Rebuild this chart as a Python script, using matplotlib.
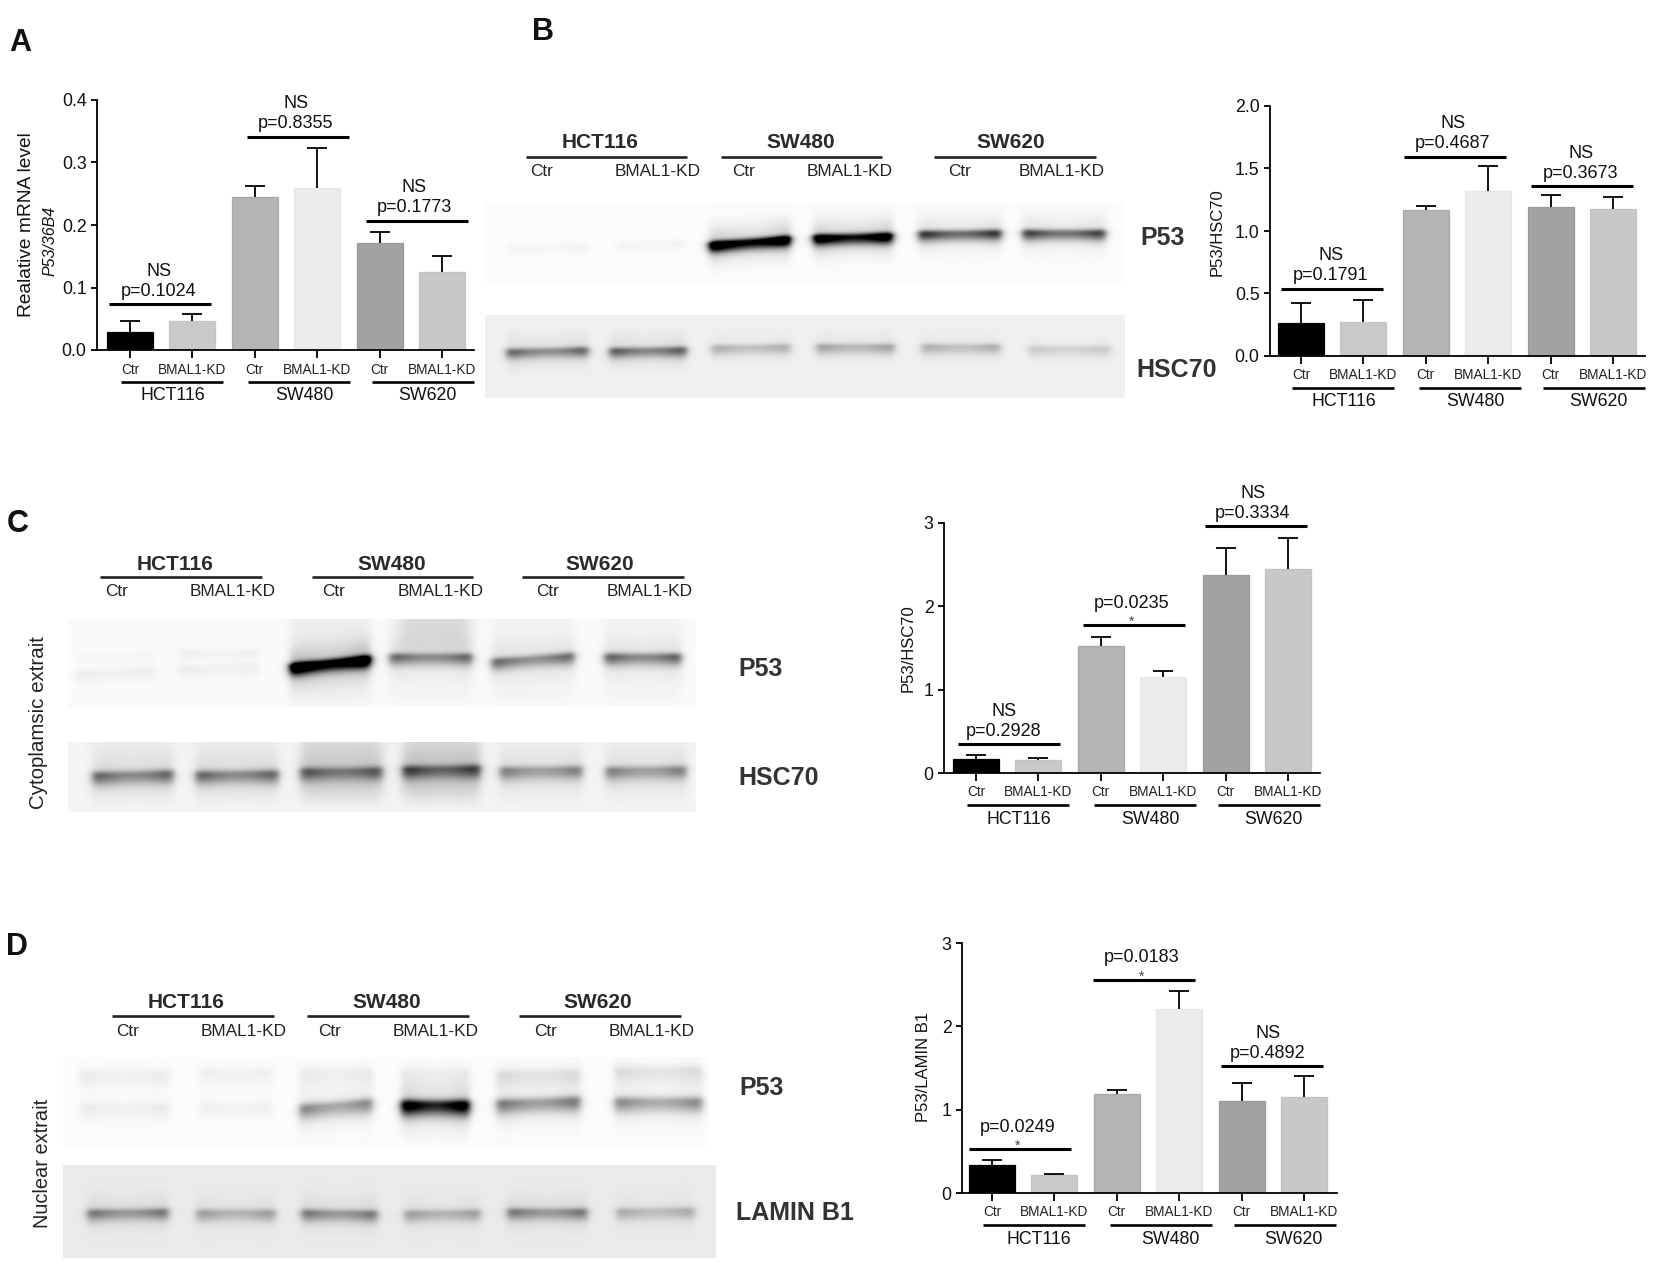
import numpy as np
import matplotlib
matplotlib.use("Agg")
import matplotlib.pyplot as plt

W, H = 1654, 1266
plt.rcParams['font.family'] = ['Liberation Sans', 'DejaVu Sans']

# ---------- data ----------
conditions = ['Ctr', 'BMAL1-KD'] * 3
cell_lines = ['HCT116', 'SW480', 'SW620']

A_means = [0.029, 0.046, 0.245, 0.260, 0.171, 0.125]
A_tops = [0.046, 0.058, 0.262, 0.324, 0.189, 0.150]
A_pvals = ['p=0.1024', 'p=0.8355', 'p=0.1773']
A_marks = ['NS', 'NS', 'NS']
A_yticks = ['0.0', '0.1', '0.2', '0.3', '0.4']

B_means = [0.265, 0.275, 1.165, 1.320, 1.195, 1.175]
B_tops = [0.425, 0.450, 1.200, 1.520, 1.285, 1.270]
B_pvals = ['p=0.1791', 'p=0.4687', 'p=0.3673']
B_marks = ['NS', 'NS', 'NS']
B_yticks = ['0.0', '0.5', '1.0', '1.5', '2.0']

C_means = [0.172, 0.160, 1.524, 1.148, 2.376, 2.452]
C_tops = [0.220, 0.184, 1.628, 1.228, 2.700, 2.824]
C_pvals = ['p=0.2928', 'p=0.0235', 'p=0.3334']
C_marks = ['NS', '*', 'NS']
C_yticks = ['0', '1', '2', '3']

D_means = [0.336, 0.216, 1.192, 2.212, 1.100, 1.148]
D_tops = [0.392, 0.232, 1.240, 2.420, 1.316, 1.400]
D_pvals = ['p=0.0249', 'p=0.0183', 'p=0.4892']
D_marks = ['*', '*', 'NS']
D_yticks = ['0', '1', '2', '3']

# band darkness per lane
B_p53_levels = [0.025, 0.025, 1.15, 1.05, 0.62, 0.58]
B_hsc_levels = [0.42, 0.46, 0.20, 0.24, 0.20, 0.12]
C_p53_levels = [0.04, 0.04, 1.25, 0.42, 0.42, 0.45]
C_p53_upper = [0.015, 0.03, 0.0, 0.0, 0.0, 0.0]
C_hsc_levels = [0.42, 0.42, 0.42, 0.50, 0.34, 0.34]
C_hsc_haze = [0.04, 0.04, 0.12, 0.13, 0.03, 0.03]
D_p53_levels = [0.05, 0.035, 0.36, 0.95, 0.40, 0.34]
D_p53_upper = [0.05, 0.04, 0.05, 0.04, 0.09, 0.09]
D_lam_levels = [0.36, 0.24, 0.36, 0.24, 0.36, 0.20]

bar_colors = ['#000000', '#c9c9c9', '#b4b4b4', '#ebebeb', '#a2a2a2', '#c8c8c8']
bar_edges = ['#000000', '#c4c4c4', '#a8a8a8', '#e6e6e6', '#979797', '#c2c2c2']

fig = plt.figure(figsize=(W / 100, H / 100), dpi=100, facecolor='white')
SPACING = 62.4
BAR_PX = 46


def px_axes(x0, x1, ytop, ybot, **kw):
    return fig.add_axes([x0 / W, 1 - ybot / H, (x1 - x0) / W, (ybot - ytop) / H], **kw)


ov = fig.add_axes([0, 0, 1, 1], zorder=20)
ov.set_xlim(0, W)
ov.set_ylim(H, 0)
ov.axis('off')
ov.patch.set_alpha(0)


def hline(x0, x1, y, lw=1.9, color='black'):
    ov.plot([x0, x1], [y, y], color=color, lw=lw, solid_capstyle='butt')


def bar_panel(x_axis, x_end, y_top, y_zero, first, ymax, means, tops, yticks, pvals,
              marks, brackets, ylabel_x, ylabel_y, ylabel, group_dx=0, ylabel_size=12):
    ax = px_axes(x_axis, x_end, y_top, y_zero)
    ax.patch.set_alpha(0)
    pos = np.arange(6)
    ax.set_xlim((x_axis - first) / SPACING, (x_end - first) / SPACING)
    ax.set_ylim(0, ymax)
    ax.bar(pos, means, width=BAR_PX / SPACING, color=bar_colors, edgecolor=bar_edges, linewidth=0.9)
    tp = np.array(tops) - np.array(means)
    cont = ax.errorbar(pos, means, yerr=[np.zeros(6), tp], fmt='none', ecolor='black',
                       elinewidth=1.3, capsize=7.2, capthick=1.3)
    cont[1][0].set_visible(False)
    ax.set_yticks(np.linspace(0, ymax, len(yticks)))
    ax.set_yticklabels(yticks, fontsize=12.8, color='#111111')
    ax.set_xticks(pos)
    ax.set_xticklabels(conditions, fontsize=9.8, color='#222222')
    ax.tick_params(axis='y', length=4, width=1.3, pad=3.5)
    ax.tick_params(axis='x', length=5.8, width=1.3, pad=3.2)
    for s in ('top', 'right'):
        ax.spines[s].set_visible(False)
    for s in ('left', 'bottom'):
        ax.spines[s].set_linewidth(1.3)
    # group rules and names
    for name, dx_line, dx_txt in zip(cell_lines, (-9, 118, 242), (43, 174, 297)):
        hline(first + dx_line, first + dx_line + 102, y_zero + 32)
        ov.text(first + dx_txt + group_dx, y_zero + 46, name, ha='center', va='center',
                fontsize=12.8, color='#111111')
    # significance
    for (bx, by, tdx), p, m in zip(brackets, pvals, marks):
        hline(bx, bx + 102, by, lw=2.2)
        cx = bx + 51 + tdx
        if m == 'NS':
            ov.text(cx, by - 13, p, ha='center', va='center', fontsize=13, color='#111111')
            ov.text(cx, by - 33, m, ha='center', va='center', fontsize=13, color='#111111')
        else:
            ov.text(cx, by - 22, p, ha='center', va='center', fontsize=13, color='#111111')
            ov.text(cx, by - 3, m, ha='center', va='center', fontsize=10, color='#444444')
    ov.text(ylabel_x, ylabel_y, ylabel, rotation=90, ha='center', va='center',
            fontsize=ylabel_size, color='#111111')
    return ax


def blot(x0, x1, y0, y1, bg, layers):
    X, Y = np.meshgrid(np.arange(x0, x1) + .5, np.arange(y0, y1) + .5)
    img = np.full(X.shape, bg, dtype=float)
    for layer in layers:
        if layer[0] == 'band':
            _, lanes, yl, yr, levels, sigma = layer
            for (a, b), yy0, yy1, lvl in zip(lanes, yl, yr, levels):
                w = 1 / (1 + np.exp(-(X - a) / 2.4)) / (1 + np.exp((X - b) / 2.4))
                t = np.clip((X - a) / (b - a), 0, 1)
                w = w * (0.78 + 0.5 * (2 * t - 1) ** 2)
                yc = yy0 + (yy1 - yy0) * t
                d = Y - yc
                s = np.where(d < 0, sigma, sigma * 1.9)
                prof = np.exp(-.5 * (d / s) ** 2) + 0.16 * np.exp(-.5 * (d / (sigma * 4.5)) ** 2)
                img -= lvl * w * prof
        else:
            _, lanes, ya, yb, levels = layer
            for (a, b), lvl in zip(lanes, levels):
                w = 1 / (1 + np.exp(-(X - a) / 4)) / (1 + np.exp((X - b) / 4))
                v = 1 / (1 + np.exp(-(Y - ya) / 5)) / (1 + np.exp((Y - yb) / 5))
                img -= lvl * w * v
    ax = px_axes(x0, x1, y0, y1)
    ax.imshow(np.clip(img, 0, 1), cmap='gray', vmin=0, vmax=1, aspect='auto', interpolation='bilinear')
    ax.axis('off')


NARROW = ['Liberation Sans Narrow', 'Liberation Sans']


def blot_head(name_x, line_spans, y_name, y_line, y_cond, cond_x):
    for name, cx, (a, b) in zip(cell_lines, name_x, line_spans):
        ov.text(cx, y_name, name, ha='center', va='center', family=NARROW, fontsize=15,
                fontweight='bold', color='#2a2a2a')
        hline(a, b, y_line, lw=1.9, color='#222222')
    for c, cx in zip(conditions, cond_x):
        ov.text(cx, y_cond, c, ha='center', va='center', family=NARROW, fontsize=12.4, color='#222222')


def prot_label(x, y, s):
    ov.text(x, y, s, ha='center', va='center', family=NARROW, fontsize=18, fontweight='bold',
            color='#333333')


# ---------- panel A ----------
bar_panel(97, 474, 100, 350, 130, 0.4, A_means, A_tops, A_yticks, A_pvals, A_marks,
          [(109, 304, -1), (247, 137, -2), (366, 221, -3)], 27, 225, 'Realative mRNA level',
          ylabel_size=13.8)
ov.text(50, 241, 'P53/36B4', rotation=90, ha='center', va='center', fontsize=11.5,
        style='italic', color='#111111')

# ---------- panel B ----------
bar_panel(1270, 1645, 106, 356, 1301, 2.0, B_means, B_tops, B_yticks, B_pvals, B_marks,
          [(1281, 289, -1), (1404, 157, -2), (1531, 186, -1)], 1217, 232, 'P53/HSC70')
blot(485, 1125, 202, 283, 0.985, [
    ('band', [(509, 589), (616, 684), (710, 790), (814, 892), (919, 1001), (1023, 1105)],
     [248, 245, 245, 238, 234, 233], [246, 243, 239, 236, 233, 233], B_p53_levels, 2.7)])
blot(485, 1125, 315, 398, 0.94, [
    ('band', [(507, 588), (610, 686), (712, 790), (817, 894), (922, 1000), (1029, 1110)],
     [352, 351, 348, 347, 347, 349], [350, 350, 347, 347, 347, 349], B_hsc_levels, 2.6)])
blot_head((600, 801, 1011), ((526, 687), (721, 882), (934, 1096)), 143, 157, 171,
          (542, 658, 744, 850, 960, 1062))
prot_label(1163, 238, 'P53')
prot_label(1177, 370, 'HSC70')

# ---------- panel C ----------
bar_panel(944, 1320, 523, 773, 976, 3, C_means, C_tops, C_yticks, C_pvals, C_marks,
          [(958, 744, -5), (1083, 625, -2), (1205, 526, -3)], 908, 648, 'P53/HSC70')
c_lanes_p = [(77, 153), (179, 258), (291, 370), (390, 472), (492, 574), (605, 681)]
c_lanes_h = [(93, 173), (196, 278), (301, 382), (403, 480), (500, 582), (606, 686)]
blot(68, 696, 619, 707, 0.98, [
    ('haze', c_lanes_p, 605, 700, [0.0, 0.0, 0.05, 0.03, 0.03, 0.03]),
    ('haze', [(400, 470)], 605, 650, [0.10]),
    ('band', c_lanes_p, [674, 669, 667, 657, 662, 657], [671, 667, 659, 657, 656, 657], C_p53_levels, 3.0),
    ('band', c_lanes_p, [656, 652, 0, 0, 0, 0], [655, 652, 0, 0, 0, 0], C_p53_upper, 2.5)])
blot(68, 696, 742, 812, 0.96, [
    ('haze', c_lanes_h, 735, 798, C_hsc_haze),
    ('band', c_lanes_h, [776, 775, 772, 770, 771, 771], [774, 774, 771, 769, 770, 770], C_hsc_levels, 3.4)])
blot_head((175, 392, 600), ((100, 262), (312, 473), (522, 684)), 564, 577, 592,
          (117, 233, 334, 441, 548, 650))
prot_label(761, 669, 'P53')
prot_label(779, 778, 'HSC70')
ov.text(39, 723, 'Cytoplamsic extrait', rotation=90, ha='center', va='center', fontsize=14.8,
        color='#222222')

# ---------- panel D ----------
bar_panel(962, 1337, 943, 1193, 992, 3, D_means, D_tops, D_yticks, D_pvals, D_marks,
          [(969, 1149, -2), (1093, 980, -2), (1221, 1066, -4)], 924, 1067, 'P53/LAMIN B1', group_dx=4)
d_lanes_p = [(80, 169), (200, 272), (300, 372), (402, 469), (497, 580), (615, 702)]
d_lanes_l = [(88, 168), (197, 275), (302, 377), (405, 480), (508, 587), (617, 694)]
blot(63, 709, 1057, 1147, 0.985, [
    ('band', d_lanes_p, [1108, 1107, 1109, 1105, 1104, 1102], [1108, 1107, 1103, 1105, 1101, 1102], D_p53_levels, 3.8),
    ('band', d_lanes_p, [1075, 1073, 1073, 1073, 1075, 1071], [1075, 1073, 1073, 1073, 1074, 1071], D_p53_upper, 4.0)])
blot(63, 716, 1165, 1258, 0.92, [
    ('band', d_lanes_l, [1213, 1213, 1213, 1214, 1212, 1212], [1212, 1213, 1214, 1213, 1212, 1211], D_lam_levels, 3.0)])
blot_head((186, 387, 598), ((112, 274), (307, 469), (519, 681)), 1003, 1016, 1031,
          (128, 244, 330, 436, 546, 652))
prot_label(762, 1088, 'P53')
prot_label(795, 1213, 'LAMIN B1')
ov.text(43, 1163, 'Nuclear extrait', rotation=90, ha='center', va='center', fontsize=14.4,
        color='#222222')

# ---------- panel letters ----------
ov.text(20, 43, 'A', ha='center', va='center', fontsize=22, fontweight='bold', color='#111111')
ov.text(543, 32, 'B', ha='center', va='center', fontsize=22, fontweight='bold', color='#111111')
ov.text(18, 524, 'C', ha='center', va='center', fontsize=22, family=NARROW, fontweight='bold', color='#111111')
ov.text(17, 947, 'D', ha='center', va='center', fontsize=22, family=NARROW, fontweight='bold', color='#111111')

fig.savefig('out.png', dpi=100, facecolor='white')
